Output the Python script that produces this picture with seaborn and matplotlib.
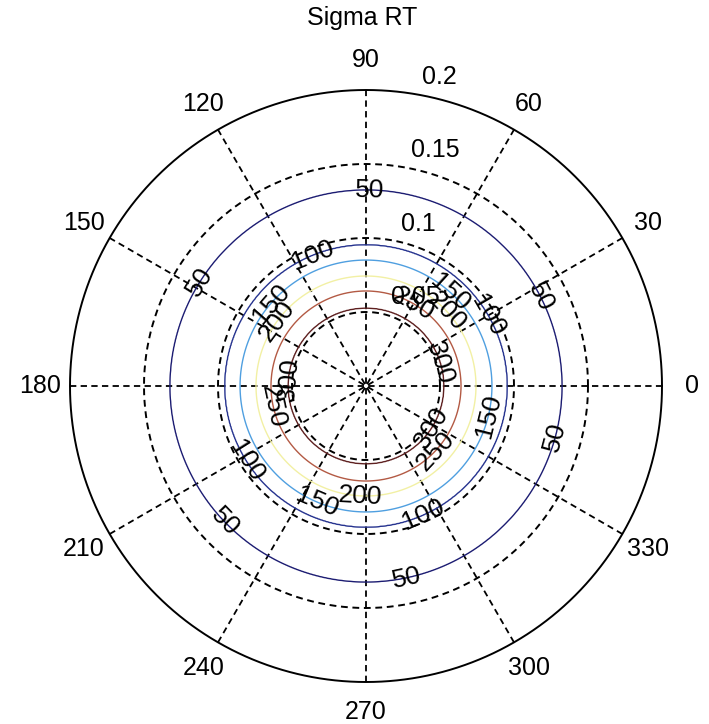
import numpy as np
import pandas as pd
import matplotlib
matplotlib.use("Agg")
import matplotlib.pyplot as plt
import seaborn as sns

# ---------------- data ----------------
title = "Sigma RT"
sigma_levels = [50, 100, 150, 200, 250, 300]
# radial profile of Sigma RT (radius in polar units -> value)
profile_radius = [0.0, 0.0527, 0.0642, 0.0743, 0.0851, 0.0953, 0.1324, 0.2]
profile_sigma = [380, 300, 250, 200, 150, 100, 50, 0]
r_ticks = [0.05, 0.1, 0.15, 0.2]
theta_ticks = [0, 30, 60, 90, 120, 150, 180, 210, 240, 270, 300, 330]
level_colors = ["#1c1c72", "#26338f", "#4f9fe0", "#f2f0a4", "#b35a44", "#5e2020"]
# angles (deg) at which the contour labels sit
label_angles = {
    50: [89, 148, 27, 345, 224, 282],
    100: [112, 30, 212, 294],
    150: [139, 48, 346, 247],
    200: [144, 43, 267],
    250: [192, 60, 317],
    300: [175, 17, 328],
}

# ---------------- figure ----------------
sns.set_theme(style="white")
plt.rcParams["font.family"] = ["Liberation Sans", "DejaVu Sans"]
plt.rcParams["text.color"] = "black"

W, H = 709, 724
fig = plt.figure(figsize=(W / 100, H / 100), dpi=100)
fig.patch.set_facecolor("white")
ax = fig.add_axes([0, 0, 1, 1])
scale = 1480.0  # px per polar unit
cx, cy = 366.0, 386.0
ax.set_xlim(-cx / scale, (W - cx) / scale)
ax.set_ylim(-(H - cy) / scale, cy / scale)
ax.axis("off")

rmax = max(r_ticks)
th = np.linspace(0, 2 * np.pi, 721)
dash = (0, (3.5, 2.4))

# spokes
for t in theta_ticks[:6]:
    a = np.deg2rad(t)
    sns.lineplot(x=[-rmax * np.cos(a), rmax * np.cos(a)],
                 y=[-rmax * np.sin(a), rmax * np.sin(a)],
                 sort=False, estimator=None, color="black", lw=1.3,
                 linestyle=dash, ax=ax, zorder=2)

# circles
for r in r_ticks:
    df = pd.DataFrame({"x": r * np.cos(th), "y": r * np.sin(th)})
    sns.lineplot(data=df, x="x", y="y", sort=False, estimator=None,
                 color="black", lw=1.4,
                 linestyle="-" if r == rmax else dash, ax=ax, zorder=2)

# contour field
g = np.linspace(-0.21, 0.21, 701)
X, Y = np.meshgrid(g, g)
R = np.hypot(X, Y)
Z = np.interp(R, profile_radius, profile_sigma)

r_of = lambda lev: np.interp(lev, profile_sigma[::-1], profile_radius[::-1])
for lev, col in zip(sigma_levels, level_colors):
    cs = ax.contour(X, Y, Z, levels=[lev], colors=[col], linewidths=1.0, zorder=3)
    rr = r_of(lev)
    pos = [(rr * np.cos(np.deg2rad(a)), rr * np.sin(np.deg2rad(a)))
           for a in label_angles[lev]]
    ax.clabel(cs, manual=pos, inline=False, fontsize=19,
              colors="black", fmt="%d", zorder=5)

# angle labels
for t in theta_ticks:
    a = np.deg2rad(t)
    ax.text(1.1 * rmax * np.cos(a), 1.1 * rmax * np.sin(a), str(t),
            ha="center", va="center", fontsize=18, color="black")

# radial labels at 82 degrees
c82, s82 = np.cos(np.deg2rad(82)), np.sin(np.deg2rad(82))
for r in r_ticks:
    rr = r + rmax / 4 / 20
    ax.text(rr * c82, rr * s82, "  " + f"{r:g}", ha="left", va="bottom",
            fontsize=18, color="black", zorder=4)

fig.text(362 / W, 1 - 18 / H, title, ha="center", va="center", fontsize=18,
         color="black")

fig.savefig("out.png", dpi=100, facecolor="white")
